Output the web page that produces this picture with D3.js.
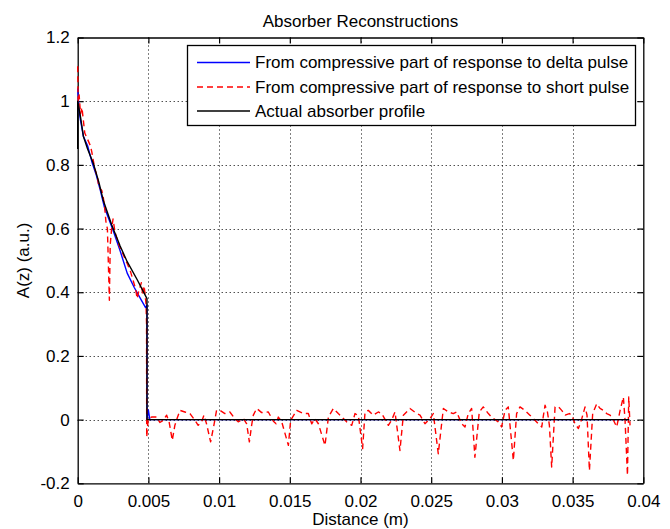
<!DOCTYPE html>
<html>
<head>
<meta charset="utf-8">
<script src="https://cdn.jsdelivr.net/npm/d3@7"></script>
<style>
  html, body { margin: 0; padding: 0; background: #fff; }
  svg { display: block; }
  text { font-family: "Liberation Sans", Arial, Helvetica, sans-serif; fill: #000; }
</style>
</head>
<body>
<svg id="chart" width="670" height="529"></svg>
<script>
// Axis ticks
const xTicks = [0, 0.005, 0.01, 0.015, 0.02, 0.025, 0.03, 0.035, 0.04];
const xTickLabels = ["0", "0.005", "0.01", "0.015", "0.02", "0.025", "0.03", "0.035", "0.04"];
const yTicks = [-0.2, 0, 0.2, 0.4, 0.6, 0.8, 1, 1.2];
const yTickLabels = ["-0.2", "0", "0.2", "0.4", "0.6", "0.8", "1", "1.2"];

// Actual absorber profile
const actualZ = [0, 0, 0.0002, 0.0004, 0.0007, 0.0011, 0.0015, 0.0018, 0.0024, 0.003, 0.0035, 0.0042, 0.0049, 0.0049, 0.0050, 0.039];
const actualA = [0.85, 1.0, 0.95, 0.89, 0.85, 0.805, 0.745, 0.69, 0.612, 0.545, 0.496, 0.44, 0.38, 0.0, 0.0, 0.0];

// Reconstruction from the delta-pulse response
const deltaZ = [0, 0.0001, 0.0002, 0.0004, 0.0007, 0.001, 0.0013, 0.0016, 0.0019, 0.0022, 0.0025, 0.003, 0.0035, 0.004, 0.0045, 0.0048, 0.0049, 0.0049, 0.0050, 0.0051, 0.039];
const deltaA = [1.04, 0.97, 0.94, 0.89, 0.86, 0.81, 0.77, 0.72, 0.665, 0.63, 0.595, 0.53, 0.46, 0.415, 0.375, 0.352, 0.36, 0.0, 0.03, 0.0, 0.0];

// Reconstruction from the short-pulse response
const shortZ = [
  0, 0.00003, 0.0001, 0.0002, 0.0003, 0.0005, 0.0007, 0.0009, 0.001, 0.0012, 0.0014, 0.0015, 0.0017, 0.0018, 0.0019, 0.002, 0.0021, 0.00224, 0.0023, 0.0024, 0.0025, 0.0026, 0.0027, 0.0029, 0.0031, 0.0033, 0.0035, 0.0037, 0.0039, 0.0041, 0.0042, 0.0043, 0.0045, 0.0046, 0.0047, 0.00483, 0.00487, 0.00488,
  0.00499, 0.00522, 0.00558, 0.00581, 0.00605, 0.00629, 0.00647, 0.00669, 0.00687, 0.00704, 0.00723, 0.00758, 0.00794, 0.00829, 0.00852, 0.00876, 0.00893, 0.00911, 0.0094, 0.00963, 0.00982, 0.01006, 0.01041, 0.01076, 0.01112, 0.01135,
  0.01172, 0.01195, 0.01214, 0.0123, 0.01242, 0.01266, 0.01301, 0.01348, 0.01384, 0.01403, 0.01419, 0.01443, 0.0149, 0.01506, 0.01549, 0.01596, 0.01631, 0.01655, 0.01678, 0.01702, 0.01749, 0.01773, 0.01808, 0.01843,
  0.01855, 0.01902, 0.01938, 0.01961, 0.01985, 0.02015, 0.02032, 0.02055, 0.02091, 0.02126, 0.0215, 0.02197, 0.0222, 0.02244, 0.02279, 0.02303, 0.0235, 0.02397, 0.02421, 0.02456, 0.02491, 0.02515, 0.0255,
  0.02586, 0.02621, 0.02656, 0.0268, 0.02715, 0.02739, 0.02762, 0.02786, 0.02809, 0.0284, 0.02868, 0.02904, 0.02927, 0.02974, 0.02998, 0.03022, 0.03045, 0.03081, 0.03104, 0.03128, 0.03163, 0.03198, 0.03234, 0.03257,
  0.03282, 0.03294, 0.03305, 0.03322, 0.03336, 0.03352, 0.03376, 0.034, 0.03423, 0.03447, 0.03477, 0.03494, 0.03517, 0.03541, 0.03565, 0.03588, 0.03602, 0.03619, 0.03642, 0.03671, 0.03694, 0.03718, 0.03741, 0.03765, 0.03789, 0.03812, 0.03836, 0.03859, 0.03871, 0.03888, 0.03897, 0.03906
];
const shortA = [
  1.11, 1.0, 1.02, 0.96, 0.98, 0.9, 0.88, 0.86, 0.84, 0.79, 0.76, 0.73, 0.72, 0.7, 0.67, 0.62, 0.6, 0.375, 0.55, 0.6, 0.63, 0.6, 0.58, 0.55, 0.53, 0.51, 0.49, 0.47, 0.44, 0.41, 0.38, 0.4, 0.43, 0.39, 0.42, 0.365, 0.3, -0.055,
  0.003, 0.008, 0.008, -0.009, -0.002, 0.014, -0.009, -0.065, -0.018, 0.005, 0.029, 0.024, 0.019, -0.002, -0.018, -0.007, 0.014, -0.013, -0.07, -0.018, 0.029, 0.029, 0.019, 0.024, 0.003, -0.007,
  0.003, -0.013, -0.07, -0.018, 0.014, 0.035, 0.022, 0.024, -0.005, -0.013, 0.008, -0.007, -0.081, -0.002, 0.029, 0.019, 0.019, -0.013, 0.003, -0.013, -0.081, 0.008, 0.035, 0.019,
  0.014, -0.007, -0.018, 0.019, 0.012, -0.091, 0.024, 0.029, 0.014, 0.024, 0.019, -0.018, -0.002, 0.024, -0.097, 0.014, 0.035, 0.019, 0.014, -0.013, 0.003, 0.019, -0.107,
  0.035, 0.024, 0.019, 0.024, -0.013, -0.023, 0.019, 0.035, -0.118, 0.024, 0.04, 0.019, 0.008, -0.007, -0.023, 0.029, 0.04, -0.128, 0.019, 0.04, 0.029, 0.014, -0.002, -0.013,
  -0.023, 0.014, 0.045, 0.024, -0.018, -0.149, 0.04, 0.04, 0.029, 0.014, 0.019, 0.014, -0.013, -0.028, 0.003, 0.04, 0.014, -0.16, 0.019, 0.05, 0.035, 0.029, 0.019, 0.014, -0.002, -0.023, 0.029, 0.071, -0.002, -0.175, 0.071, -0.018
];

const seriesNames = [
  "From compressive part of response to delta pulse",
  "From compressive part of response to short pulse",
  "Actual absorber profile"
];
const seriesColors = ["#0000ff", "#ff0000", "#000000"];

const W = 670, H = 529;
const plot = { left: 77.7, right: 643.3, top: 37.5, bottom: 483.3 };

const svg = d3.select("#chart");
const x = d3.scaleLinear().domain([0, 0.04]).range([plot.left, plot.right]);
const y = d3.scaleLinear().domain([-0.2, 1.2]).range([plot.bottom, plot.top]);

// Dotted grid
const grid = svg.append("g").attr("stroke", "#000").attr("stroke-width", 1)
  .attr("stroke-dasharray", "1,3");
grid.selectAll("line.gx").data(xTicks.slice(1, -1)).join("line")
  .attr("x1", d => Math.round(x(d)) + 0.5).attr("x2", d => Math.round(x(d)) + 0.5)
  .attr("y1", plot.top).attr("y2", plot.bottom);
grid.selectAll("line.gy").data(yTicks.slice(1, -1)).join("line")
  .attr("y1", d => Math.round(y(d)) + 0.5).attr("y2", d => Math.round(y(d)) + 0.5)
  .attr("x1", plot.left).attr("x2", plot.right);

// Axes with inward ticks on all four sides
const fmtX = d => xTickLabels[xTicks.indexOf(d)];
const fmtY = d => yTickLabels[yTicks.indexOf(d)];
const tickLen = 6;
const axB = svg.append("g").attr("transform", `translate(0,${plot.bottom})`)
  .call(d3.axisBottom(x).tickValues(xTicks).tickFormat(fmtX).tickSizeInner(-tickLen).tickSizeOuter(0).tickPadding(12));
const axT = svg.append("g").attr("transform", `translate(0,${plot.top})`)
  .call(d3.axisTop(x).tickValues(xTicks).tickFormat("").tickSizeInner(-tickLen).tickSizeOuter(0));
const axL = svg.append("g").attr("transform", `translate(${plot.left},0)`)
  .call(d3.axisLeft(y).tickValues(yTicks).tickFormat(fmtY).tickSizeInner(-tickLen).tickSizeOuter(0).tickPadding(8));
const axR = svg.append("g").attr("transform", `translate(${plot.right},0)`)
  .call(d3.axisRight(y).tickValues(yTicks).tickFormat("").tickSizeInner(-tickLen).tickSizeOuter(0));
[axB, axT, axL, axR].forEach(g => {
  g.select(".domain").attr("stroke", "#000").attr("stroke-width", 1.3);
  g.selectAll(".tick line").attr("stroke", "#000").attr("stroke-width", 1.2);
  g.selectAll("text").attr("font-size", 17).attr("font-family", "Liberation Sans, Arial, sans-serif");
});

// Data lines
const line = d3.line().x(d => x(d[0])).y(d => y(d[1]));
const zip = (a, b) => a.map((v, i) => [v, b[i]]);
const lines = svg.append("g").attr("fill", "none").attr("stroke-linejoin", "round");
lines.append("path").datum(zip(deltaZ, deltaA)).attr("d", line)
  .attr("stroke", seriesColors[0]).attr("stroke-width", 1.4);
lines.append("path").datum(zip(shortZ, shortA)).attr("d", line)
  .attr("stroke", seriesColors[1]).attr("stroke-width", 1.4).attr("stroke-dasharray", "6,4");
lines.append("path").datum(zip(actualZ, actualA)).attr("d", line)
  .attr("stroke", seriesColors[2]).attr("stroke-width", 1.4);

// Title and axis labels
svg.append("text").attr("x", (plot.left + plot.right) / 2).attr("y", 27)
  .attr("text-anchor", "middle").attr("font-size", 17).text("Absorber Reconstructions");
svg.append("text").attr("x", (plot.left + plot.right) / 2).attr("y", 525)
  .attr("text-anchor", "middle").attr("font-size", 17).text("Distance (m)");
svg.append("text").attr("transform", `translate(29,${(plot.top + plot.bottom) / 2}) rotate(-90)`)
  .attr("text-anchor", "middle").attr("font-size", 17).text("A(z) (a.u.)");

// Legend
const lg = svg.append("g");
lg.append("rect").attr("x", 187.5).attr("y", 45.5).attr("width", 448).attr("height", 80)
  .attr("fill", "#fff").attr("stroke", "#000").attr("stroke-width", 1.3);
const rowY = [62.5, 87, 111];
const dashes = [null, "6,4", null];
seriesNames.forEach((name, i) => {
  lg.append("line").attr("x1", 197).attr("x2", 250).attr("y1", rowY[i]).attr("y2", rowY[i])
    .attr("stroke", seriesColors[i]).attr("stroke-width", 1.4)
    .attr("stroke-dasharray", dashes[i]);
  lg.append("text").attr("x", 255).attr("y", rowY[i]).attr("dy", "0.35em")
    .attr("font-size", 17).text(name);
});
</script>
</body>
</html>
